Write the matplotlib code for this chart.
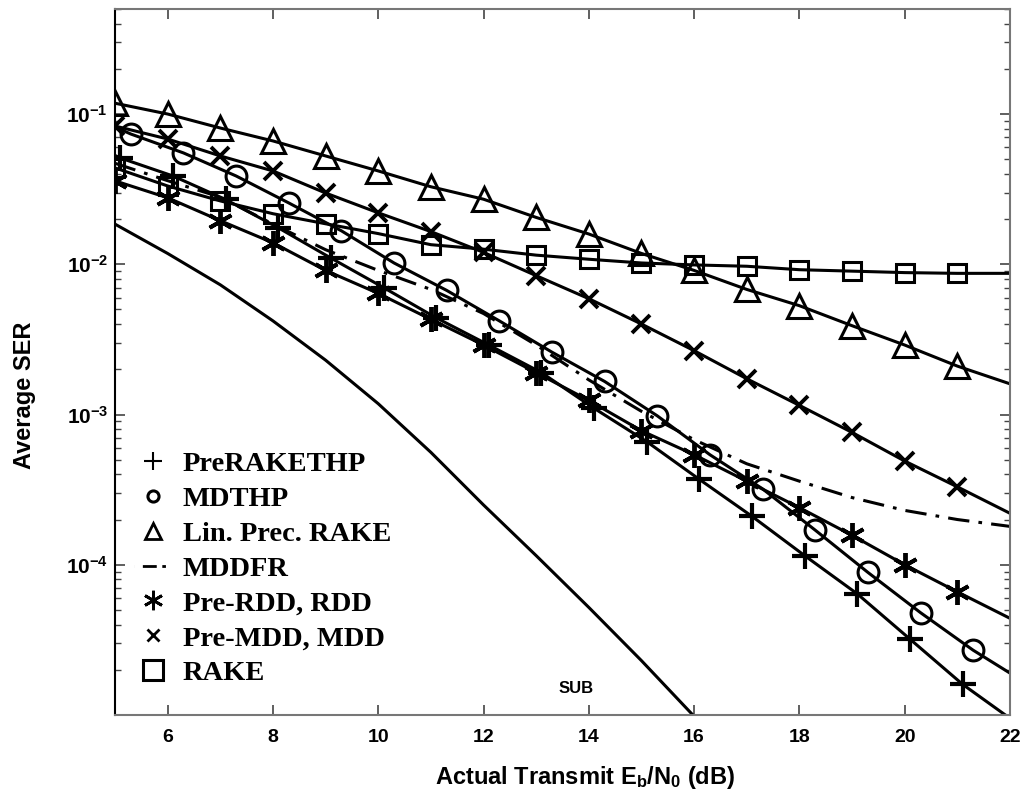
import matplotlib
matplotlib.use("Agg")
import matplotlib.pyplot as plt
from matplotlib.lines import Line2D
from matplotlib.ticker import LogLocator, NullFormatter, FixedLocator, FixedFormatter

plt.rcParams['font.family'] = ['Liberation Sans', 'DejaVu Sans']
plt.rcParams['mathtext.default'] = 'regular'

# ---------------- data ----------------
x_int = [5, 6, 7, 8, 9, 10, 11, 12, 13, 14, 15, 16, 17, 18, 19, 20, 21, 22]

lin_prec_rake = [0.118, 0.100, 0.0807, 0.0662, 0.0526, 0.0418, 0.0328, 0.0271, 0.0205,
                 0.0159, 0.0118, 0.0091, 0.0068, 0.0053, 0.0039, 0.0029, 0.0021, 0.0016]
pre_mdd = [0.0832, 0.0682, 0.0526, 0.0418, 0.0298, 0.0220, 0.0165, 0.0120, 0.0084,
           0.0059, 0.0040, 0.00266, 0.00173, 0.00115, 0.00076, 0.00049, 0.00033, 0.00022]
rake = [0.0438, 0.0332, 0.0264, 0.0217, 0.0186, 0.0160, 0.0135, 0.0126, 0.0115,
        0.0108, 0.0102, 0.0099, 0.0097, 0.0092, 0.0090, 0.0088, 0.0087, 0.0087]
pre_rdd = [0.0359, 0.0277, 0.0195, 0.0139, 0.0091, 0.0064, 0.0043, 0.0029, 0.0019,
           0.00124, 0.00078, 0.00054, 0.00036, 0.00024, 0.000157, 0.0001, 0.000066, 0.000044]
mddfr = [0.047, 0.036, 0.028, 0.0185, 0.0125, 0.0091, 0.0068, 0.0047, 0.0029,
         0.0017, 0.00105, 0.00068, 0.00047, 0.00036, 0.00028, 0.00023, 0.0002, 0.00018]

x_plus = [5, 5.1, 6.1, 7.1, 8.1, 9.1, 10.1, 11.1, 12.1, 13.1, 14.1, 15.1, 16.1, 17.1,
          18.1, 19.1, 20.1, 21.1, 22]
pre_rake_thp = [0.053, 0.051, 0.0387, 0.027, 0.0175, 0.011, 0.0070, 0.0044, 0.0029, 0.0019,
                0.0011, 0.00066, 0.00037, 0.00021, 0.000115, 0.000064, 0.000032, 0.000016,
                0.0000095]

x_circ = [5, 5.3, 6.3, 7.3, 8.3, 9.3, 10.3, 11.3, 12.3, 13.3, 14.3, 15.3, 16.3, 17.3,
          18.3, 19.3, 20.3, 21.3, 22]
mdthp = [0.082, 0.0736, 0.0551, 0.0387, 0.0256, 0.0167, 0.0102, 0.0067, 0.0042, 0.0026,
         0.00166, 0.00098, 0.00054, 0.00032, 0.00017, 0.000089, 0.000048, 0.000027, 0.000019]

x_sub = [5, 6, 7, 8, 9, 10, 11, 12, 13, 14, 15, 16]
sub = [0.0185, 0.0118, 0.0073, 0.0042, 0.0023, 0.00118, 0.00056, 0.00025, 0.000115,
       0.000052, 0.000023, 0.0000098]

legend_labels = ['PreRAKETHP', 'MDTHP', 'Lin. Prec. RAKE', 'MDDFR',
                 'Pre-RDD, RDD', 'Pre-MDD, MDD', 'RAKE']
ytick_vals = [1e-4, 1e-3, 1e-2, 1e-1]
ytick_labels = ['$10^{-4}$', '$10^{-3}$', '$10^{-2}$', '$10^{-1}$']
xtick_vals = [6, 8, 10, 12, 14, 16, 18, 20, 22]

# ---------------- figure ----------------
fig = plt.figure(figsize=(10.26, 8), dpi=100)
ax = fig.add_axes([115/1026, 1-715/800, 895/1026, 706/800])

lw = 2.2
mew = 2.2
k = 'black'
mid = slice(1, -1)
first17 = slice(0, 17)

ax.plot(x_sub, sub, '-', color=k, lw=lw)
ax.plot(x_int, mddfr, color=k, lw=lw, linestyle=(0, (7, 3, 1.2, 3)))
ax.plot(x_int, rake, '-', color=k, lw=lw, marker='s', ms=13, mfc='none', mec=k, mew=mew, markevery=first17)
ax.plot(x_int, lin_prec_rake, '-', color=k, lw=lw, marker='^', ms=17, mfc='none', mec=k, mew=mew, markevery=first17)
ax.plot(x_int, pre_mdd, '-', color=k, lw=lw, marker='x', ms=13, mec=k, mew=mew + 0.6, markevery=first17)
ax.plot(x_circ, mdthp, '-', color=k, lw=lw, marker='o', ms=15, mfc='none', mec=k, mew=mew, markevery=mid)
ax.plot(x_int, pre_rdd, '-', color=k, lw=lw, marker=(6, 2, 0), ms=18, mec=k, mew=mew + 0.6, markevery=first17)
ax.plot(x_plus, pre_rake_thp, '-', color=k, lw=lw, marker='+', ms=19, mec=k, mew=mew + 0.8, markevery=mid)

ax.text(13.75, 1.5e-5, 'SUB', fontsize=12, fontweight='bold', ha='center', va='center')

ax.set_yscale('log')
ax.set_xlim(5, 22)
ax.set_ylim(1e-5, 0.5)

ax.yaxis.set_major_locator(FixedLocator(ytick_vals))
ax.yaxis.set_major_formatter(FixedFormatter(ytick_labels))
ax.yaxis.set_minor_locator(LogLocator(base=10, subs=range(2, 10)))
ax.yaxis.set_minor_formatter(NullFormatter())
ax.set_xticks(xtick_vals)
ax.set_xticklabels([str(v) for v in xtick_vals])

ax.tick_params(axis='both', which='both', direction='in', top=True, right=True,
               colors='#444444', labelcolor='black')
ax.tick_params(axis='both', which='major', length=7, width=1.2)
ax.tick_params(axis='x', which='major', labelsize=14, pad=10)
ax.tick_params(axis='y', which='major', labelsize=15, pad=5)
ax.tick_params(axis='y', which='minor', length=4, width=1.0)
for lab in ax.get_xticklabels() + ax.get_yticklabels():
    lab.set_fontweight('bold')

for side in ['top', 'right', 'bottom']:
    ax.spines[side].set_color('#777777')
    ax.spines[side].set_linewidth(1.5)
ax.spines['left'].set_color('black')
ax.spines['left'].set_linewidth(1.5)

ax.set_xlabel('Actual Transmit E$_b$/N$_0$ (dB)', fontsize=17, fontweight='bold')
ax.xaxis.set_label_coords(0.525, -0.07)
ax.set_ylabel('Average SER', fontsize=17, fontweight='bold')
ax.yaxis.set_label_coords(-0.088, 0.453)

handles = [
    Line2D([], [], ls='none', marker='+', ms=13, mew=1.5, color=k),
    Line2D([], [], ls='none', marker='o', ms=8, mew=2.2, mfc='none', color=k),
    Line2D([], [], ls='none', marker='^', ms=12, mew=2.0, mfc='none', color=k),
    Line2D([], [], ls=(0, (0.01, 3.0, 5.0, 2.0, 1.3, 20)), lw=2.0, color=k),
    Line2D([], [], ls='none', marker=(6, 2, 0), ms=14, mew=2.0, color=k),
    Line2D([], [], ls='none', marker='x', ms=8, mew=2.0, color=k),
    Line2D([], [], ls='none', marker='s', ms=14, mew=2.2, mfc='none', color=k),
]
leg = ax.legend(handles, legend_labels, loc='lower left', bbox_to_anchor=(0.0085, 0.025),
                borderaxespad=0, frameon=False, handlelength=1.3, handletextpad=0.42,
                labelspacing=0.31,
                prop={'family': 'Liberation Serif', 'weight': 'bold', 'size': 20.5})

fig.savefig('out.png', dpi=100)
